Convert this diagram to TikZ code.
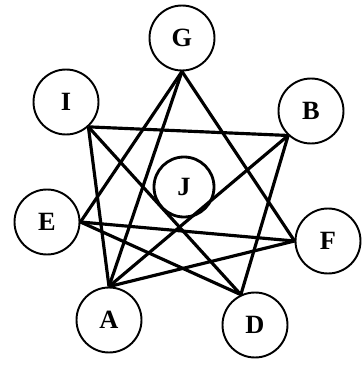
\documentclass[tikz,border=0pt]{standalone}
\usepackage{fontspec}
\setmainfont{Liberation Serif}
\begin{document}
\begin{tikzpicture}[
  vtx/.style={circle,draw,line width=1.1pt,minimum size=1.3cm,inner sep=0pt,
    font=\fontsize{15}{17}\selectfont\bfseries},
  edge/.style={line width=1.8pt}]

\useasboundingbox (0,0) rectangle (7.26,7.32);

\node[vtx] (G) at (3.64,6.56) {G};
\node[vtx] (I) at (1.32,5.28) {I};
\node[vtx] (B) at (6.22,5.10) {B};
\node[vtx,minimum size=1.2cm,line width=1.6pt] (J) at (3.68,3.58) {J};
\node[vtx] (E) at (0.94,2.88) {E};
\node[vtx] (F) at (6.56,2.50) {F};
\node[vtx] (A) at (2.18,0.92) {A};
\node[vtx] (D) at (5.10,0.82) {D};

\draw[edge] (G.270) -- (E.0);
\draw[edge] (G.270) -- (A.90);
\draw[edge] (G.270) -- (F.180);

\draw[edge] (I.-48) -- (B.227);
\draw[edge] (I.-48) -- (A.90);
\draw[edge] (I.-48) -- (D.115);

\draw[edge] (B.227) -- (A.90);
\draw[edge] (B.227) -- (D.115);

\draw[edge] (E.0) -- (F.180);
\draw[edge] (E.0) -- (D.115);

\draw[edge] (A.90) -- (F.180);

\end{tikzpicture}
\end{document}
